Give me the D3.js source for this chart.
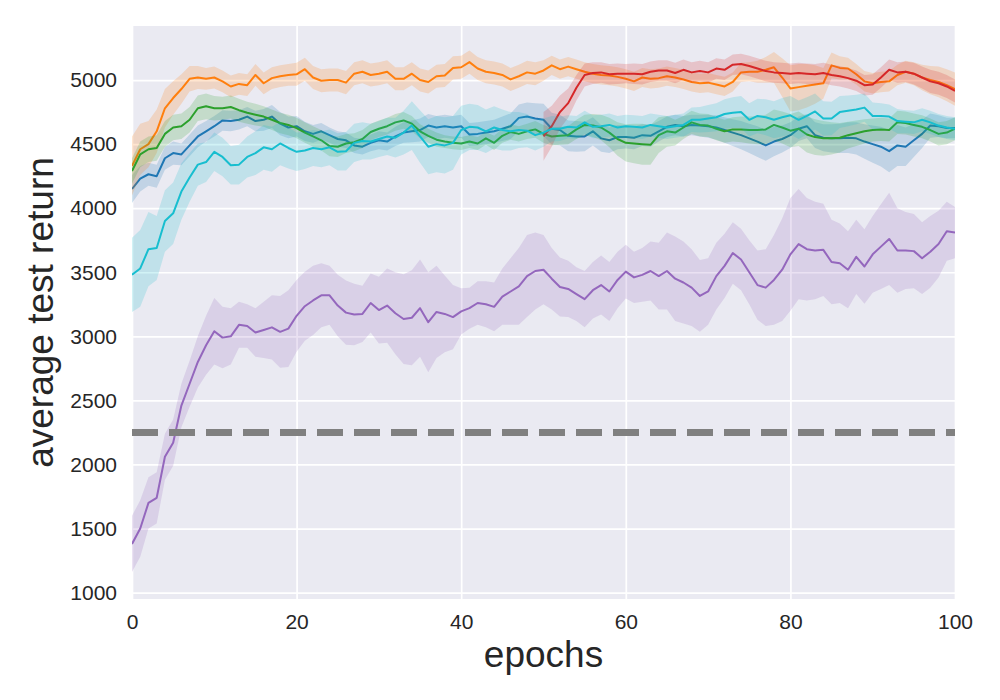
<!DOCTYPE html>
<html>
<head>
<meta charset="utf-8">
<script src="https://cdn.jsdelivr.net/npm/d3@7"></script>
<style>
  body { margin: 0; background: #fff; }
  text { font-family: "Liberation Sans", Arial, sans-serif; fill: #262626; }
</style>
</head>
<body>
<div id="chart"></div>
<script>
// epochs 0..100
var blueMean = [4150,4230,4265,4250,4390,4430,4420,4490,4560,4600,4640,4685,4680,4690,4715,4680,4690,4715,4660,4630,4640,4600,4580,4600,4570,4540,4530,4490,4480,4510,4530,4520,4560,4590,4600,4610,4645,4630,4640,4630,4640,4575,4580,4590,4600,4620,4640,4705,4715,4700,4690,4620,4610,4565,4560,4560,4600,4545,4530,4555,4555,4550,4570,4565,4600,4635,4650,4640,4650,4645,4640,4630,4610,4590,4570,4545,4520,4490,4520,4540,4570,4620,4640,4570,4550,4545,4545,4550,4545,4520,4500,4480,4445,4490,4480,4530,4580,4645,4640,4625,4625];
var blueSpread = [110,100,90,90,90,90,85,85,85,80,80,80,80,75,75,80,85,90,90,85,80,75,70,65,60,60,60,60,60,65,70,70,75,80,85,90,90,90,90,90,90,90,90,90,90,95,100,105,110,120,125,125,120,120,120,115,110,105,100,95,90,90,85,85,80,80,80,80,80,85,90,95,100,105,110,115,120,120,115,105,100,95,95,100,105,110,115,120,125,135,145,155,165,160,150,130,110,95,85,80,80];

var orangeMean = [4330,4460,4500,4600,4780,4860,4930,5010,5020,5010,5020,4990,4950,4970,4960,5040,4975,5015,5030,5040,5045,5085,5020,4995,5000,5000,4980,5050,5065,5040,5050,5065,5010,5010,5050,5000,4985,5030,5035,5095,5100,5140,5090,5065,5055,5040,5005,5030,5060,5050,5075,5115,5085,5105,5085,5065,5050,5040,5035,5025,5010,4990,5020,5010,5015,5030,5020,5005,4985,4975,4980,4965,4950,4985,5060,5065,5065,5080,5100,5020,4935,4945,4955,4965,4975,5115,5095,5090,5045,4990,4975,4985,4990,5040,5065,5050,5020,5000,4985,4960,4930];
var orangeSpread = [230,200,180,170,150,130,115,100,90,85,85,85,85,85,85,85,85,85,85,85,90,90,90,90,90,90,90,90,90,90,90,90,90,90,90,90,90,90,90,90,90,90,90,90,90,90,90,90,90,90,80,75,75,75,75,75,75,75,75,75,75,75,75,75,75,75,75,75,75,75,75,75,75,75,75,75,85,100,120,150,180,180,170,150,120,100,90,85,80,80,80,80,80,80,85,90,100,110,120,125,130];

var greenMean = [4290,4420,4460,4470,4580,4630,4640,4690,4780,4795,4780,4780,4790,4765,4745,4730,4715,4690,4665,4650,4625,4590,4560,4530,4485,4480,4505,4515,4540,4595,4620,4640,4670,4685,4660,4600,4565,4535,4520,4510,4505,4520,4505,4545,4510,4565,4595,4580,4600,4615,4580,4560,4565,4570,4615,4650,4645,4630,4590,4540,4510,4505,4500,4495,4570,4600,4590,4630,4670,4650,4645,4620,4600,4615,4615,4610,4610,4615,4650,4630,4605,4620,4575,4555,4545,4545,4550,4570,4585,4600,4610,4615,4610,4670,4665,4650,4635,4610,4580,4590,4620];
var greenSpread = [100,100,100,100,100,100,100,100,100,100,95,90,90,90,85,85,80,80,80,80,80,80,80,80,80,80,75,70,70,65,65,65,65,65,60,55,55,55,50,50,50,50,50,50,55,55,60,60,60,65,70,70,70,70,75,80,90,100,115,130,145,155,160,155,140,120,100,90,90,90,90,90,90,95,100,105,110,115,120,125,130,135,140,140,135,125,115,105,100,95,90,90,90,90,90,90,90,90,90,90,90];

// red starts at epoch 50
var redStart = 50;
var redMean = [4560,4640,4750,4820,4940,5040,5055,5060,5045,5050,5050,5050,5045,5065,5075,5075,5055,5080,5060,5070,5060,5090,5080,5120,5125,5110,5090,5070,5060,5055,5050,5055,5050,5045,5055,5040,5030,5015,4995,4960,4965,5020,5080,5060,5065,5050,5020,4990,4975,4950,4915];
var redSpread = [190,160,130,115,100,90,85,80,80,80,75,80,80,80,80,80,80,80,80,80,80,80,80,80,80,80,80,80,80,80,80,80,80,80,80,80,80,80,80,80,80,80,80,80,80,85,85,90,90,90,90];

var purpleMean = [1380,1500,1700,1740,2060,2170,2460,2630,2800,2930,3040,2990,3000,3090,3080,3030,3050,3070,3035,3060,3160,3235,3280,3320,3320,3240,3185,3170,3175,3260,3205,3240,3180,3135,3145,3220,3110,3190,3175,3150,3195,3220,3260,3250,3230,3310,3350,3390,3470,3510,3520,3450,3385,3370,3330,3290,3360,3400,3350,3440,3505,3460,3480,3510,3470,3510,3450,3420,3380,3315,3350,3470,3550,3650,3600,3500,3400,3380,3440,3520,3640,3720,3680,3670,3675,3580,3570,3520,3620,3545,3640,3700,3760,3670,3670,3665,3610,3660,3720,3820,3810];
var purpleSpread = [220,220,200,200,180,180,170,180,200,230,260,240,220,180,170,190,220,250,280,300,280,270,270,250,230,240,250,240,220,230,260,290,320,350,370,380,390,360,300,250,180,160,170,180,190,220,260,300,320,300,270,240,230,220,210,220,220,230,230,220,210,200,210,230,260,300,330,320,300,280,260,260,250,240,240,250,270,300,350,400,440,430,400,380,360,330,310,300,290,290,300,330,360,330,300,290,280,280,260,230,200];

var cyanMean = [3480,3530,3680,3690,3900,3960,4130,4240,4340,4360,4440,4400,4335,4340,4400,4430,4475,4460,4505,4470,4440,4450,4470,4460,4475,4440,4445,4510,4525,4520,4540,4560,4550,4590,4645,4560,4480,4500,4490,4510,4610,4635,4630,4600,4630,4610,4600,4610,4605,4570,4590,4620,4620,4635,4630,4670,4635,4640,4650,4630,4640,4635,4630,4650,4640,4630,4640,4650,4690,4690,4700,4710,4735,4745,4750,4690,4720,4710,4690,4710,4725,4690,4720,4755,4700,4700,4750,4760,4770,4785,4720,4720,4715,4680,4675,4670,4690,4670,4645,4630,4620];
var cyanSpread = [290,300,290,250,240,240,220,190,165,155,150,150,150,155,160,170,175,175,170,160,150,145,140,140,140,145,150,150,145,140,140,145,155,170,190,205,215,220,220,210,190,180,175,170,165,160,150,140,130,120,110,100,95,90,90,90,90,90,90,90,90,90,90,90,90,90,90,90,95,100,105,110,115,120,125,130,135,140,145,150,150,150,145,140,135,130,125,120,115,110,105,100,95,95,90,90,90,90,90,90,90];

var baseline = 2250;
var xTicks = [0, 20, 40, 60, 80, 100];
var yTicks = [1000, 1500, 2000, 2500, 3000, 3500, 4000, 4500, 5000];

var series = [
	{mean: blueMean, spread: blueSpread, start: 0, color: "#1f77b4"},
	{mean: orangeMean, spread: orangeSpread, start: 0, color: "#ff7f0e"},
	{mean: greenMean, spread: greenSpread, start: 0, color: "#2ca02c"},
	{mean: redMean, spread: redSpread, start: redStart, color: "#d62728"},
	{mean: purpleMean, spread: purpleSpread, start: 0, color: "#9467bd"},
	{mean: cyanMean, spread: cyanSpread, start: 0, color: "#17becf"}
];

var outerwidth = 1000, outerheight = 700;
var plotLeft = 132, plotRight = 955, plotTop = 26, plotBottom = 599;

var svg = d3.select("#chart").append("svg")
	.attr("width", outerwidth)
	.attr("height", outerheight);

var x = d3.scaleLinear().domain([0, 100]).range([plotLeft, plotRight]);
var y = d3.scaleLinear().domain([950, 5422]).range([plotBottom, plotTop]);

// background
svg.append("rect")
	.attr("x", plotLeft).attr("y", plotTop)
	.attr("width", plotRight - plotLeft).attr("height", plotBottom - plotTop)
	.attr("fill", "#eaeaf2");

svg.append("clipPath").attr("id", "plotClip")
	.append("rect")
	.attr("x", plotLeft).attr("y", plotTop)
	.attr("width", plotRight - plotLeft).attr("height", plotBottom - plotTop);

// grid
svg.append("g")
	.attr("transform", "translate(0," + plotBottom + ")")
	.call(d3.axisBottom(x).tickValues(xTicks).tickSize(-(plotBottom - plotTop)).tickFormat(""))
	.call(g => g.select(".domain").remove())
	.call(g => g.selectAll("line").attr("stroke", "#fff").attr("stroke-width", 1.7));

svg.append("g")
	.attr("transform", "translate(" + plotLeft + ",0)")
	.call(d3.axisLeft(y).tickValues(yTicks).tickSize(-(plotRight - plotLeft)).tickFormat(""))
	.call(g => g.select(".domain").remove())
	.call(g => g.selectAll("line").attr("stroke", "#fff").attr("stroke-width", 1.7));

// tick labels
svg.append("g")
	.attr("transform", "translate(0," + plotBottom + ")")
	.call(d3.axisBottom(x).tickValues(xTicks).tickSize(0).tickPadding(15).tickFormat(d3.format("d")))
	.call(g => g.select(".domain").remove())
	.call(g => g.selectAll("text").style("font-size", "21px").attr("fill", "#262626")
		.style("font-family", "'Liberation Sans', Arial, sans-serif"));

svg.append("g")
	.attr("transform", "translate(" + plotLeft + ",0)")
	.call(d3.axisLeft(y).tickValues(yTicks).tickSize(0).tickPadding(15).tickFormat(d3.format("d")))
	.call(g => g.select(".domain").remove())
	.call(g => g.selectAll("text").style("font-size", "21px").attr("fill", "#262626")
		.style("font-family", "'Liberation Sans', Arial, sans-serif"));

var plot = svg.append("g").attr("clip-path", "url(#plotClip)");

series.forEach(function(s) {
	var pts = s.mean.map(function(m, i) {
		return {e: s.start + i, m: m, lo: m - s.spread[i], hi: m + s.spread[i]};
	});
	var area = d3.area()
		.x(d => x(d.e))
		.y0(d => y(d.lo))
		.y1(d => y(d.hi));
	var line = d3.line()
		.x(d => x(d.e))
		.y(d => y(d.m));
	plot.append("path")
		.datum(pts)
		.attr("d", area)
		.attr("fill", s.color)
		.attr("fill-opacity", 0.2)
		.attr("stroke", "none");
	plot.append("path")
		.datum(pts)
		.attr("d", line)
		.attr("fill", "none")
		.attr("stroke", s.color)
		.attr("stroke-width", 2)
		.attr("stroke-linejoin", "round");
});

// baseline
plot.append("line")
	.attr("x1", x(0)).attr("x2", x(100))
	.attr("y1", y(baseline)).attr("y2", y(baseline))
	.attr("stroke", "#808080")
	.attr("stroke-width", 7)
	.attr("stroke-dasharray", "26,11");

// axis labels
svg.append("text")
	.attr("x", (plotLeft + plotRight) / 2)
	.attr("y", 667)
	.attr("text-anchor", "middle")
	.style("font-size", "37px")
	.text("epochs");

svg.append("text")
	.attr("transform", "translate(53," + ((plotTop + plotBottom) / 2) + ") rotate(-90)")
	.attr("text-anchor", "middle")
	.style("font-size", "37px")
	.text("average test return");
</script>
</body>
</html>
